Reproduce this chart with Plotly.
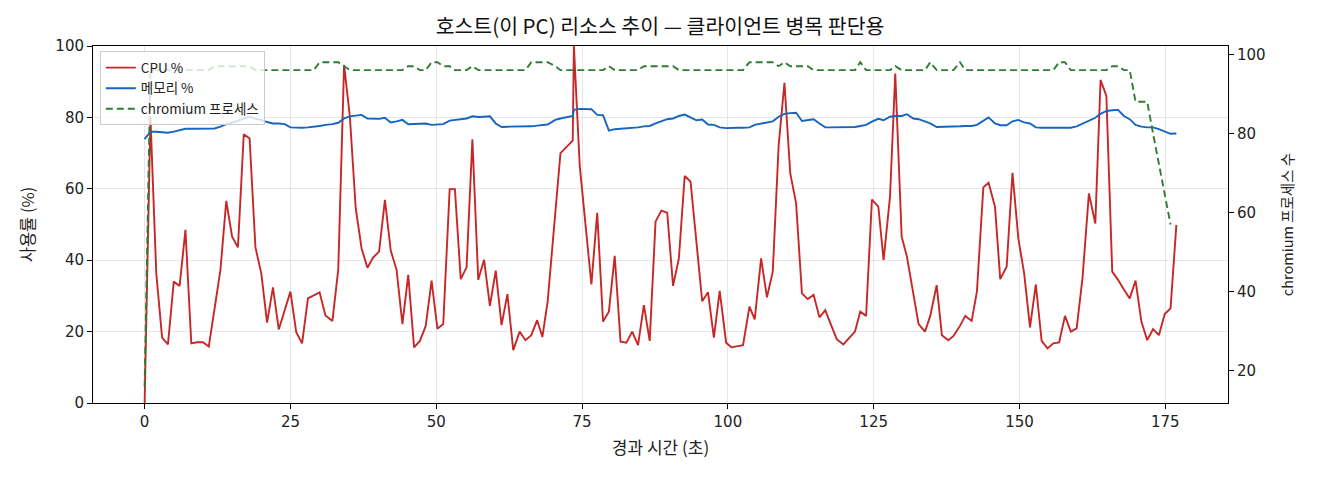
import plotly.graph_objects as go

# elapsed time (s)
t = [0, 1, 2, 3, 4, 5, 6, 7, 8, 9, 10, 11, 12, 13, 14, 15, 16, 17, 18, 19, 20, 21, 22, 23, 24, 25, 26, 27, 28, 29, 30, 31,
     32.2, 33.2, 34.2, 35.2, 36.2, 37.2, 38.2, 39.2, 40.2, 41.2, 42.2, 43.2, 44.2, 45.2, 46.2, 47.2, 48.2, 49.2, 50.2,
     51.2, 52.3, 53.2, 54.2, 55.2, 56.2, 57.2, 58.2, 59.2, 60.2, 61.2, 62.2, 63.2, 64.3, 65.3, 66.3, 67.3, 68.2, 69.1,
     70.4, 71.3, 73.4, 73.6,
     74.6, 75.6, 76.6, 77.6, 78.6, 79.6, 80.6, 81.6, 82.6, 83.6, 84.6, 85.6, 86.6, 87.6, 88.6, 89.6, 90.6, 91.6, 92.6,
     93.6, 94.6, 95.6, 96.6,
     97.6, 98.6, 99.7, 100.6, 101.6, 102.6, 103.7, 104.6, 105.7, 106.7, 107.7, 108.7, 109.7, 110.7, 111.7, 112.7, 113.7,
     114.7, 115.7, 116.7, 117.7, 118.7, 119.8, 120.7, 121.8, 122.7, 123.7, 124.7, 125.8, 126.7, 127.8, 128.7,
     129.8, 130.7, 131.8, 132.7, 133.8, 134.7, 135.8, 136.7, 137.8, 138.7, 139.8, 140.7, 141.8, 142.7, 143.8, 144.7,
     145.8, 146.7, 147.8, 148.8, 149.8, 150.8, 151.8, 152.8, 153.8, 154.8, 155.8, 156.8, 157.8, 158.8, 159.8, 160.8,
     161.9, 163.0, 163.9, 164.9, 165.9, 166.9, 167.9, 168.9, 169.9, 170.9, 171.9, 172.9, 173.9, 174.9, 175.9, 176.9]

cpu = [0, 80, 36.3, 18.3, 16.4, 34, 32.8, 48.5, 16.7, 17, 17, 15.8, 26.5, 37.3, 56.6, 46.6, 43.6, 75.3, 74.1, 43.6,
       36.3, 22.5, 32.4, 20.6, 25.9, 31.2, 19.8, 16.7, 29.3, 30.2, 31, 24.5,
       23, 37.4, 94.7, 80, 54.5, 43.3, 37.9, 40.8, 42.4, 56.9, 42.7, 37.3, 22.1, 35.9, 15.6, 17.4, 21.6, 34.3, 20.8,
       22.1, 59.9, 59.9, 34.7, 38, 73.9, 34.5, 40.1, 27.2, 37.1, 21.8, 30.5, 14.8, 20, 17.6, 19, 23.2, 18.5, 28.4,
       53, 70, 73.5, 100,
       66.5, 50.5, 33.2, 53.3, 22.8, 25.6, 41.2, 17.2, 16.9, 20, 16.2, 27.4, 17.4, 50.8, 53.9, 53.3, 32.8, 40.5, 63.6,
       62, 45, 28.5, 31,
       18.3, 31.4, 16.9, 15.6, 16, 16.2, 27, 23.4, 40.5, 29.6, 36.8, 72, 89.7, 64.3, 55.9, 30.7, 29.1, 30.3, 24, 26,
       21.8, 17.8, 16.4, 18.1, 20, 25.6, 24.4, 57, 55, 40, 57.8, 92.3,
       46.6, 41, 31.2, 22.1, 20, 24.4, 33, 19, 17.6, 18.8, 21.6, 24.4, 23, 31.2, 60.4, 61.7, 55, 34.7, 38.2, 64.5, 46.1,
       36.3, 21.2, 33.2, 17.4, 15.3, 16.7, 17, 24.4, 20, 20.9, 34.9,
       58.7, 50.3, 90.5, 86, 36.8, 34.5, 31.8, 29.3, 34.3, 22.8, 17.6, 20.7, 19, 24.9, 26.5, 49.9]

mem = [73.9, 76, 76, 75.9, 75.7, 76, 76.3, 76.8, 76.8, 76.8, 76.8, 76.8, 76.9, 77.4, 78.1, 78.5, 79, 79.5, 80.2, 79.6,
       79.3, 78.7, 78.3, 78.3, 78.1, 77.2, 77.1, 77.1, 77.2, 77.3, 77.6, 77.9,
       78.1, 78.5, 79.7, 80.3, 80.6, 80.7, 79.7, 79.6, 79.6, 79.9, 78.6, 78.9, 79.3, 78.1, 78.1, 78.1, 78.3, 77.9, 77.9,
       78.1, 79.1, 79.3, 79.5, 79.7, 80.3, 80.1, 80.2, 80.3, 78.3, 77.3, 77.4, 77.4, 77.4, 77.4, 77.5, 77.7, 77.8, 78,
       79.3, 79.7, 80.4, 82.1,
       82.4, 82.3, 82.3, 80.7, 80.6, 76.3, 76.7, 76.8, 76.9, 77, 77.2, 77.5, 77.6, 78.3, 78.8, 79.5, 79.7, 80.4, 80.8,
       80, 79.2, 79.4, 78,
       77.9, 77.2, 77, 77.1, 77.1, 77.1, 77.2, 77.9, 78.3, 78.5, 78.9, 80.2, 81, 81.2, 81.3, 79, 79.3, 79.5, 78.3, 77.2,
       77.2, 77.2, 77.1, 77.2, 77.3, 77.6, 77.9, 78.8, 79.6, 79.2, 80.2, 80.4,
       80.4, 80.9, 79.7, 79.5, 78.9, 78.3, 77.3, 77.3, 77.3, 77.4, 77.5, 77.6, 77.6, 77.9, 79, 80, 78.3, 77.8, 77.8,
       78.9, 79.3, 78.6, 78.3, 77.2, 77.1, 77.1, 77.1, 77.1, 77.1, 77.1, 77.5, 78.3,
       79.1, 79.9, 81, 81.8, 82, 82.1, 80.4, 79.5, 77.9, 77.4, 77.2, 77.2, 76.7, 76, 75.4, 75.5]

chromium = [16, 96, 96, 96, 96, 96, 96, 96, 96, 96, 96, 96, 97, 97, 97, 97, 97, 97, 97, 96, 96, 96, 96, 96, 96, 96,
            96, 96, 96, 96, 98, 98,
            98, 98, 97, 96, 96, 96, 96, 96, 96, 96, 96, 96, 96, 97, 97, 96, 96, 98, 98, 97, 97, 96, 96, 96, 97,
            96, 96, 96, 96, 96, 96, 96, 96, 96, 98, 98, 98, 98,
            97, 96, 96, 96,
            96, 96, 96, 96, 96, 97, 96, 96, 96, 96, 96, 97, 97, 97, 97, 97, 97, 96, 96, 96, 96, 96, 96,
            96, 96, 96, 96, 96, 96, 98, 98, 98, 98, 98, 97, 98, 97, 97, 97, 97, 96, 96, 96, 96, 96, 96, 96, 96, 98,
            96, 96, 96, 96, 96, 97,
            96, 96, 96, 96, 96, 98, 96, 96, 96, 96, 98, 96, 96, 96, 96, 96, 96, 96, 96, 96, 96, 96, 96, 96, 96, 96,
            96, 98, 98, 96, 96,
            96, 96, 96, 96, 96, 97, 97, 96, 96, 88, 88, 88, 80, 72, 65, 57]

x_ticks = [0, 25, 50, 75, 100, 125, 150, 175]
y_ticks = [0, 20, 40, 60, 80, 100]
y2_ticks = [20, 40, 60, 80, 100]

KFONT = "Noto Sans CJK KR, Noto Sans, sans-serif"
NFONT = "DejaVu Sans, Noto Sans CJK KR, sans-serif"
RED, BLUE, GREEN = "#c62828", "#1565c0", "#2e7d32"

fig = go.Figure()
fig.add_trace(go.Scatter(x=t, y=cpu, mode="lines", name="CPU %",
                         line=dict(color=RED, width=1.9)))
fig.add_trace(go.Scatter(x=t, y=mem, mode="lines", name="메모리 %",
                         line=dict(color=BLUE, width=1.9)))
fig.add_trace(go.Scatter(x=t, y=chromium, mode="lines", name="chromium 프로세스",
                         line=dict(color=GREEN, width=1.9, dash="7px,4px"), yaxis="y2"))

axis_common = dict(showline=True, linecolor="black", linewidth=1, ticks="outside", ticklen=5,
                   tickcolor="black", zeroline=False,
                   tickfont=dict(family=NFONT, size=15, color="#222"))

fig.update_layout(
    width=1320, height=480,
    margin=dict(l=93, r=92, t=46, b=77),
    paper_bgcolor="white", plot_bgcolor="white",
    font=dict(family=KFONT, color="#222"),
    title=dict(text="호스트(이 PC) 리소스 추이 — 클라이언트 병목 판단용", x=0.5, xanchor="center",
               y=1 - 27 / 480, yanchor="middle", yref="container",
               font=dict(family=KFONT, size=20.5, color="#111")),
    xaxis=dict(range=[-8.85, 185.75], tickvals=x_ticks, showgrid=True, gridcolor="#e6e6e6",
               mirror=True, title=dict(text="경과 시간 (초)", font=dict(family=KFONT, size=17), standoff=12),
               **axis_common),
    yaxis=dict(range=[0, 100], tickvals=y_ticks, showgrid=True, gridcolor="#e6e6e6", mirror=True,
               title=dict(text="사용률 (%)", font=dict(family=KFONT, size=16.5), standoff=16),
               **axis_common),
    yaxis2=dict(range=[11.9, 102.1], tickvals=y2_ticks, overlaying="y", side="right", showgrid=False,
                title=dict(text="chromium 프로세스 수", font=dict(family=KFONT, size=14.5), standoff=18),
                **axis_common),
    legend=dict(x=0.006, y=0.985, xanchor="left", yanchor="top", bgcolor="rgba(255,255,255,0.8)",
                bordercolor="#cccccc", borderwidth=1, font=dict(family=KFONT, size=13.5, color="#222"),
                tracegroupgap=0, itemwidth=30),
    showlegend=True,
)

fig.write_html("out.html")
